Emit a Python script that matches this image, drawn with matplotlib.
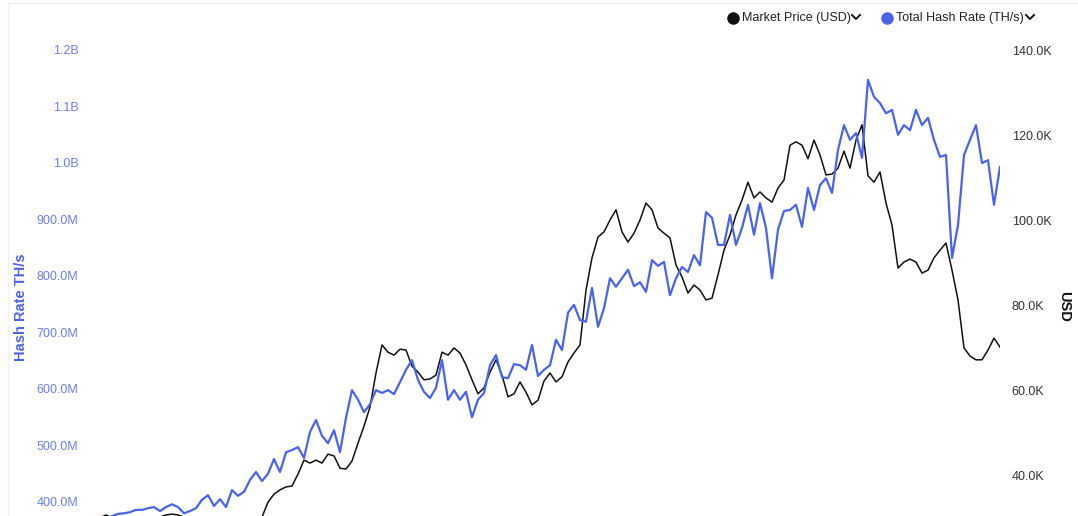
"""
Hash rate vs. BTC market price, dual-axis line chart (weekly samples).
"""
import numpy as np
import pandas as pd
import matplotlib
matplotlib.use("Agg")
import matplotlib.pyplot as plt
from matplotlib.lines import Line2D
from matplotlib.ticker import FuncFormatter

plt.rcParams["font.family"] = ["Liberation Sans", "DejaVu Sans"]

HASH_BLUE = "#4a63e8"
HASH_TICK = "#6b7fe6"
PRICE_BLACK = "#111111"
BORDER = "#ececec"

dates = pd.date_range("2023-09-24", periods=151, freq="W")

# total hash rate, millions of TH/s
hash_rate_m = [
    372, 372, 375, 379, 380, 382, 386, 386, 389, 391,
    384, 391, 396, 391, 380, 384, 389, 404, 412, 393,
    405, 391, 421, 411, 418, 439, 453, 437, 450, 476,
    453, 488, 492, 497, 478, 524, 545, 517, 504, 527,
    488, 549, 598, 581, 559, 573, 598, 593, 598, 591,
    612, 634, 651, 616, 595, 584, 602, 651, 581, 598,
    581, 595, 550, 581, 593, 642, 660, 621, 619, 644,
    642, 634, 678, 623, 634, 642, 687, 669, 735, 749,
    722, 719, 779, 710, 743, 796, 781, 796, 811, 782,
    789, 772, 828, 818, 825, 766, 796, 816, 807, 837,
    819, 913, 903, 855, 855, 908, 855, 885, 926, 873,
    929, 885, 796, 882, 915, 917, 926, 887, 956, 917,
    961, 973, 947, 1023, 1067, 1041, 1053, 1009, 1147, 1117,
    1106, 1088, 1094, 1050, 1067, 1058, 1094, 1067, 1080, 1041,
    1011, 1014, 832, 890, 1014, 1041, 1067, 1000, 1005, 926,
    993,
]

# market price, thousands of USD
price_k = [
    29.9, 30.6, 29.9, 28.9, 28.2, 28.2, 28.2, 28.5, 28.9, 29.4,
    30.1, 30.6, 30.8, 30.6, 30.1, 28.9, 28.0, 27.5, 27.5, 27.8,
    27.5, 27.5, 27.8, 27.8, 28.0, 28.5, 29.2, 30.1, 33.6, 35.5,
    36.5, 37.2, 37.4, 40.2, 43.5, 42.8, 43.5, 42.8, 44.9, 44.5,
    41.6, 41.4, 43.3, 47.5, 51.5, 56.0, 64.0, 70.6, 68.9, 68.2,
    69.6, 69.4, 65.6, 64.2, 62.4, 62.6, 63.5, 68.9, 68.2, 69.9,
    68.7, 65.9, 62.4, 59.1, 60.5, 64.2, 67.1, 63.5, 58.4, 59.1,
    61.9, 59.5, 56.5, 57.6, 62.1, 64.0, 61.9, 63.1, 66.6, 68.7,
    70.6, 83.5, 91.1, 96.0, 97.2, 100.0, 102.4, 97.2, 94.8, 96.9,
    100.0, 104.0, 102.4, 98.1, 96.9, 95.8, 89.4, 86.6, 82.8, 84.7,
    83.5, 81.2, 81.6, 87.1, 92.9, 96.5, 101.2, 104.7, 108.9, 105.2,
    106.6, 105.2, 104.2, 107.5, 109.4, 117.6, 118.4, 117.6, 114.4, 118.8,
    115.3, 110.6, 110.8, 112.2, 116.2, 112.2, 118.8, 122.4, 110.4, 108.9,
    111.3, 104.0, 98.8, 88.7, 90.1, 90.8, 90.1, 87.5, 88.2, 91.1,
    92.9, 94.6, 88.2, 81.2, 69.9, 68.0, 67.1, 67.1, 69.4, 72.2,
    70.1,
]

hash_ticks_m = [400, 500, 600, 700, 800, 900, 1000, 1100, 1200]
price_ticks_k = [40, 60, 80, 100, 120, 140]


def fmt_hash(v, _):
    return f"{v / 1000:.1f}B" if v >= 1000 else f"{v:.1f}M"


def fmt_price(v, _):
    return f"{v:.1f}K"


W, H = 1078, 516
fig = plt.figure(figsize=(W / 100, H / 100), dpi=100)
fig.patch.set_facecolor("white")

# plot area: x 100..1000 px, y 50 px from top down past the bottom edge
ax = fig.add_axes([100 / W, 0, 900 / W, 466 / H])
ax2 = ax.twinx()

ax.plot(dates, np.array(hash_rate_m), color=HASH_BLUE, linewidth=1.6, zorder=3)
ax2.plot(dates, np.array(price_k), color=PRICE_BLACK, linewidth=1.1, zorder=2)
ax.set_zorder(ax2.get_zorder() + 1)
ax.patch.set_visible(False)

ax.set_xlim(dates[0], dates[-1])
ax.set_ylim(1200 - 466 / 0.565, 1200)
ax2.set_ylim(140 - 466 / 4.25, 140)

ax.set_yticks(hash_ticks_m)
ax.yaxis.set_major_formatter(FuncFormatter(fmt_hash))
ax2.set_yticks(price_ticks_k)
ax2.yaxis.set_major_formatter(FuncFormatter(fmt_price))

for a in (ax, ax2):
    for s in a.spines.values():
        s.set_visible(False)
    a.set_xticks([])
ax.tick_params(axis="y", length=0, pad=15.5, labelsize=9, labelcolor=HASH_TICK)
ax2.tick_params(axis="y", length=0, pad=8.5, labelsize=9, labelcolor="#333333")

ax.set_ylabel("Hash Rate TH/s", color=HASH_BLUE, fontsize=10.5, fontweight="bold")
ax.yaxis.set_label_coords(-0.080, 0.449)
ax2.set_ylabel("USD", color=PRICE_BLACK, fontsize=10.5, fontweight="bold", rotation=-90, va="center")
ax2.yaxis.set_label_coords(1.071, 0.449)

# faint card border
fig.add_artist(Line2D([8 / W, 1], [1 - 3 / H, 1 - 3 / H], color=BORDER, linewidth=1))
fig.add_artist(Line2D([8 / W, 8 / W], [0, 1 - 3 / H], color="#f2f2f2", linewidth=1))

# legend: dot + label + dropdown chevron
legend_items = [("Market Price (USD)", PRICE_BLACK, 733, 856), ("Total Hash Rate (TH/s)", HASH_BLUE, 887, 1030)]
ly = 1 - 18 / H
for label, color, x_dot, x_chev in legend_items:
    fig.add_artist(Line2D([x_dot / W], [ly], marker="o", markersize=8, color=color, linestyle="none"))
    fig.text((x_dot + 9) / W, ly, label, fontsize=9, color="#222222", va="center", ha="left")
    fig.add_artist(Line2D([(x_chev - 4) / W, x_chev / W, (x_chev + 4) / W],
                          [ly + 3 / H, ly - 1 / H, ly + 3 / H], color="#111111", linewidth=1.4))

fig.savefig("out.png", dpi=100, facecolor="white")
